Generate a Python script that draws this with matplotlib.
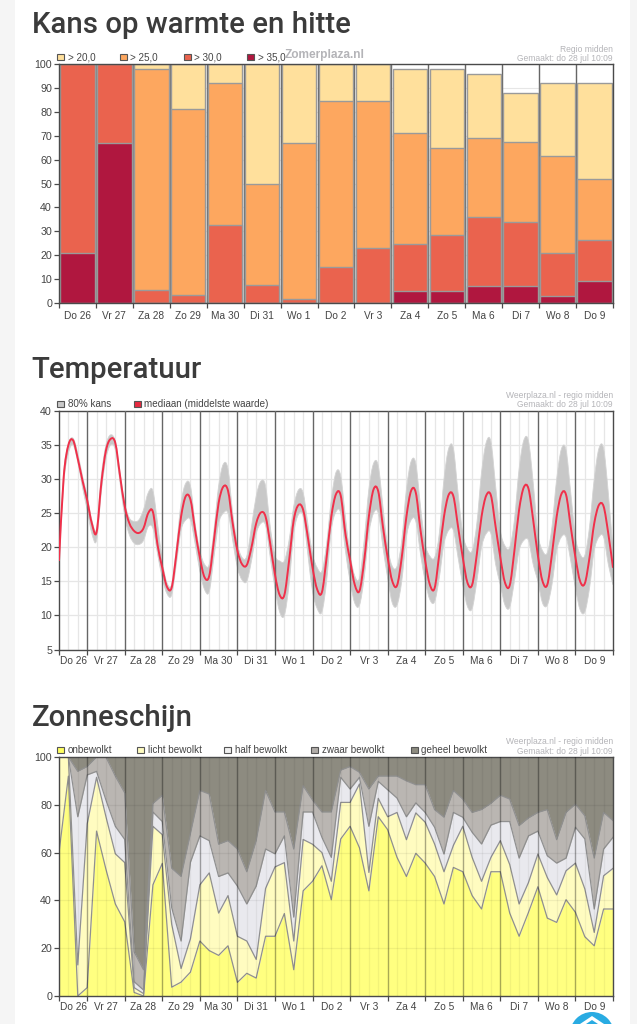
import numpy as np
import matplotlib
matplotlib.use('Agg')
import matplotlib.pyplot as plt
from matplotlib.patches import Rectangle, Circle, Polygon, PathPatch
from matplotlib.path import Path

W, H = 637, 1024

days = ['Do 26', 'Vr 27', 'Za 28', 'Zo 29', 'Ma 30', 'Di 31', 'Wo 1', 'Do 2',
        'Vr 3', 'Za 4', 'Zo 5', 'Ma 6', 'Di 7', 'Wo 8', 'Do 9']

# Kans op warmte en hitte (cumulative from the bottom, each is a chance)
above_20 = [100, 100, 100, 100, 100, 100, 100, 100, 100, 98, 98, 96, 88, 92, 92]
above_25 = [100, 100, 98, 81, 92, 50, 67, 84.5, 84.5, 71, 65, 69, 67.5, 61.5, 52]
above_30 = [100, 100, 5.5, 3.5, 32.5, 7.5, 1.5, 15, 23, 24.5, 28.5, 36, 34, 21, 26.5]
above_35 = [21, 67, 0, 0, 0, 0, 0, 0, 0, 5, 5, 7, 7, 3, 9]

# Temperatuur, one value every 3 hours starting at 06:00 on Do 26
temp_hours = np.arange(6, 361, 3)
temp_median = [18, 30.3, 35, 35.7, 33, 29.8,
               26.9, 23.5, 22.2, 29.3, 34.2, 35.9, 35.3, 30.5,
               26, 23.5, 22.4, 22.1, 22.8, 25, 25.2, 20.3,
               17, 14.2, 14.1, 19, 24.5, 27.5, 27, 22.5,
               18.5, 15.6, 15.8, 21, 26.5, 28.9, 28.3, 23.5,
               19.5, 17.5, 17.4, 20, 23.5, 25.1, 24.5, 20.5,
               16, 13, 13, 18, 24, 26.2, 25.5, 21.5,
               17, 13.8, 13.4, 18.5, 24.5, 27.8, 27.6, 22,
               18.1, 14.5, 13.6, 18, 24.5, 28.5, 28.2, 23,
               18.5, 15, 14.4, 18.5, 24.5, 28.3, 28, 22.5,
               18, 14.5, 14, 19, 24.5, 27.7, 27.5, 23,
               18.5, 14.8, 14.5, 19, 24.5, 27.6, 27.6, 23,
               18.5, 14.8, 14.4, 19.5, 25.5, 28.8, 28.6, 24,
               18.8, 15, 14.5, 19, 24.5, 27.8, 27.7, 23,
               18.5, 15, 14.7, 18.5, 23.5, 26.2, 26, 22,
               17]
temp_high = [18.5, 31, 35.2, 36, 33.8, 30.5,
             27.5, 24, 22.7, 30.5, 35, 36.5, 35.5, 31,
             26.5, 24.3, 23.8, 24, 25.5, 28, 28.3, 23.5,
             18, 14.8, 14.6, 20, 26.5, 29.4, 29, 23.5,
             19.5, 17.5, 17.5, 22.5, 29, 32.2, 31.5, 25,
             20.5, 18.5, 18.7, 23, 27.5, 29.7, 29, 23,
             18.8, 18, 18, 21, 26, 28.4, 28, 23.5,
             19, 17, 16.5, 20.5, 27, 31, 30.5, 24.5,
             19, 15.8, 15.5, 21, 28.5, 32.3, 32, 26,
             20, 17.2, 17.2, 21, 28.5, 32.6, 32.3, 26,
             20.5, 18.7, 18.5, 22, 30, 34.5, 34.5, 28,
             22, 19.8, 19.5, 23.5, 31, 35.4, 35.5, 29,
             22.5, 20.2, 20, 24, 31.5, 35.7, 35.6, 29.5,
             22, 19.5, 19.2, 23, 30, 34.4, 34.3, 28,
             21.5, 19, 18.8, 23, 30, 34.5, 34.5, 28,
             19.5]
temp_low = [17.5, 29.3, 33.8, 35, 32.5, 28.8,
            25.5, 22, 21, 28, 33, 35, 34.3, 29.5,
            24.5, 21.8, 20.6, 20.4, 21, 23, 22.8, 19,
            15.5, 13.2, 13, 17.5, 22.5, 24, 24, 20.5,
            16.5, 13.8, 13.5, 18.5, 23.5, 25, 25, 21,
            17, 15.2, 15, 18, 22, 23.5, 23.2, 18.5,
            14, 10.5, 10, 14.5, 22, 24.8, 24.5, 19,
            13.5, 11, 10.5, 15, 22.5, 25.2, 25, 19.5,
            15, 11.8, 11.5, 15.5, 22, 25, 25, 20,
            15.5, 11.8, 11.5, 15, 21.5, 24, 23.8, 19,
            15, 12.3, 12, 15.5, 20.5, 22.5, 22.5, 18.5,
            14.5, 11.3, 11, 15, 20, 22, 22, 17.5,
            14.5, 11.5, 11.2, 15, 19.5, 21, 21, 17.5,
            15, 11.8, 11.5, 14.5, 19.5, 21.5, 21.5, 18,
            14, 10.8, 10.5, 14, 19.5, 21.5, 21.5, 17.5,
            14.5]

# Zonneschijn, stacked boundaries, one value every 6 hours
sun_hours = np.arange(6, 361, 6)
onbewolkt = [60, 92, 0, 3.5, 69, 53, 38.5, 31, 1.5, 0, 46.5, 55.5, 3.7, 5.8, 10,
             23, 19, 17, 21, 5.7, 9.5, 7.5, 25, 25, 34.5, 11, 44, 48,
             54.5, 40.3, 65.7, 71, 62, 44, 75, 69.6, 58, 50, 59.7, 55.6, 50, 38.5,
             53.8, 52, 42, 36.4, 52, 52, 34.7, 25, 35, 45.7, 32.6, 30.8, 40.3, 35,
             24.8, 21, 36.4, 36.4]
licht = [100, 100, 13, 72, 91.5, 75, 59.5, 55.8, 3.5, 1, 71, 67.5, 30, 11.5, 24,
         46.5, 51.5, 34.7, 42, 25, 23, 15.3, 45, 54, 55.8, 23, 65.5, 63.5,
         60, 48, 81, 81, 88.7, 51.7, 82.7, 75, 76.8, 65.4, 76.6, 72.7, 63.6, 52,
         63, 71, 58, 48, 58, 65, 55, 38.5, 47.5, 59.4, 49.6, 42.3, 52.4, 55.6,
         44.8, 26.6, 50.3, 53.4]
half = [100, 100, 75, 92.5, 94, 82, 71, 65.5, 6, 2.5, 77, 73, 37, 23, 56,
        67, 65, 50, 51.5, 46, 38.5, 46, 61.5, 59.5, 67, 33, 77, 77,
        66.4, 58, 91.5, 86.6, 91.5, 71, 89.8, 86.3, 82.8, 75, 80.8, 76.8, 70.6, 59.4,
        76.8, 74.8, 68.5, 63.6, 71.5, 73, 73, 57.7, 67, 69, 58.7, 55.6, 57.7, 70.6,
        65.7, 36.4, 61.5, 66.4]
zwaar = [100, 100, 94, 96, 100, 100, 92, 85, 18.5, 11, 80.5, 84, 53.5, 50, 68,
         86, 84.5, 63.5, 65, 61.5, 52, 65, 86, 77, 77, 61.5, 88, 82,
         77, 77, 94.5, 96, 93.6, 86.6, 92, 92, 92, 90, 88.4, 88.4, 78, 74.8,
         86, 82.4, 76.8, 78, 80.6, 84, 82.4, 71.3, 74.5, 76.8, 78, 65.4, 76.8, 80.3,
         75.4, 57.7, 76.8, 73.4]

TEXT = '#444444'
FRAME = '#4a4a4a'
FAINT = '#b4b4b8'
GRID = '#e6e6e6'
LABEL_FONT = 'Liberation Sans'

fig = plt.figure(figsize=(W / 100, H / 100), dpi=100, facecolor='white')


def px_text(x, y, s, **kw):
    kw.setdefault('family', LABEL_FONT)
    kw.setdefault('va', 'center')
    return fig.text(x / W, 1 - y / H, s, **kw)


def px_rect(x, y, w, h, **kw):
    fig.add_artist(Rectangle((x / W, 1 - (y + h) / H), w / W, h / H,
                             transform=fig.transFigure, **kw))


def make_axes(top, bottom, left=59, right=613):
    ax = fig.add_axes([left / W, 1 - bottom / H, (right - left) / W, (bottom - top) / H])
    for s in ax.spines.values():
        s.set_color(FRAME)
        s.set_linewidth(1.0)
    ax.tick_params(axis='y', length=3.5, width=0.9, color=FRAME, labelsize=7.7,
                   labelcolor=TEXT, pad=1.5)
    ax.tick_params(axis='x', length=3.5, width=0.9, color=FRAME, labelsize=7.7,
                   labelcolor=TEXT, pad=0)
    for lab in ax.get_xticklabels() + ax.get_yticklabels():
        lab.set_family(LABEL_FONT)
    return ax


def legend(y, xs, names, colors):
    for x, name, c in zip(xs, names, colors):
        px_rect(x, y - 3.5, 6.5, 6.5, facecolor=c, edgecolor='#555555', linewidth=0.8)
        px_text(x + 10.5, y, name, fontsize=7.15, color=TEXT)


def day_labels(ax, hour_edges, y_px=8):
    # labels sit in the middle of each day block, below the axis
    for i, name in enumerate(days):
        mid = (hour_edges[i] + hour_edges[i + 1]) / 2
        ax.annotate(name, (mid, 0), xycoords=('data', 'axes fraction'),
                    xytext=(0, -y_px * 0.72), textcoords='offset points', ha='center', va='top',
                    fontsize=7.3, color=TEXT, family=LABEL_FONT)


def curve_segments(xs, ys):
    # bezier control points so the line runs smoothly through every reading
    xs = np.asarray(xs, dtype=float)
    ys = np.asarray(ys, dtype=float)
    verts = []
    for i in range(len(xs) - 1):
        a = max(i - 1, 0)
        d = min(i + 2, len(xs) - 1)
        verts.append((xs[i] + (xs[i + 1] - xs[a]) / 6, ys[i] + (ys[i + 1] - ys[a]) / 6))
        verts.append((xs[i + 1] - (xs[d] - xs[i]) / 6, ys[i + 1] - (ys[d] - ys[i]) / 6))
        verts.append((xs[i + 1], ys[i + 1]))
    return verts


def smooth_line(xs, ys):
    verts = [(xs[0], ys[0])] + curve_segments(xs, ys)
    codes = [Path.MOVETO] + [Path.CURVE4] * (len(verts) - 1)
    return Path(verts, codes)


def smooth_band(xs, low, high):
    upper = curve_segments(xs, high)
    lower = curve_segments(xs[::-1], low[::-1])
    verts = [(xs[0], high[0])] + upper + [(xs[-1], low[-1])] + lower + [(xs[0], high[0])]
    codes = ([Path.MOVETO] + [Path.CURVE4] * len(upper) + [Path.LINETO]
             + [Path.CURVE4] * len(lower) + [Path.CLOSEPOLY])
    return Path(verts, codes)


# page strips and headings
px_rect(0, 0, 15, H, facecolor='#f5f5f5', edgecolor='none')
px_rect(630, 0, 7, H, facecolor='#f5f5f5', edgecolor='none')
for y, title in [(33, 'Kans op warmte en hitte'), (378, 'Temperatuur'), (725.5, 'Zonneschijn')]:
    px_text(31.5, y, title, family='Roboto', fontweight=500, fontsize=21.2, color='#3b3b3b',
            va='baseline')

# --- Kans op warmte en hitte
ax1 = make_axes(64, 303)
x = np.arange(15) + 0.5
ax1.set_xlim(0, 15)
ax1.set_ylim(0, 100)
ax1.set_yticks(range(0, 101, 10))
ax1.grid(axis='both', color=GRID, linewidth=0.8)
ax1.set_axisbelow(True)
bar_edge = '#9a9a9a'
for vals, c in [(above_20, '#ffe09c'), (above_25, '#fda75f'),
                (above_30, '#ea634e'), (above_35, '#b0173f')]:
    ax1.bar(x, vals, width=0.93, color=c, edgecolor=bar_edge, linewidth=1.0, zorder=2)
ax1.set_xticks(range(16))
ax1.set_xticklabels([])
for d in range(1, 15):
    ax1.axvline(d, color='#666666', linewidth=1.0, zorder=1)
day_labels(ax1, list(range(16)), y_px=8)
legend(57, [57, 120, 184, 247], ['> 20,0', '> 25,0', '> 30,0', '> 35,0'],
       ['#ffe09c', '#fda75f', '#ea634e', '#b0173f'])
px_text(285, 55, 'Zomerplaza.nl', fontsize=8.6, fontweight='bold', color=FAINT)
px_text(613, 49, 'Regio midden', fontsize=6.15, color=FAINT, ha='right')
px_text(613, 58.5, 'Gemaakt: do 28 jul 10:09', fontsize=6.15, color=FAINT, ha='right')

# --- Temperatuur
ax2 = make_axes(411, 649.5)
ax2.set_xlim(6, 360)
ax2.set_ylim(5, 40)
ax2.set_yticks(range(5, 41, 5))
day_edges = [6] + list(range(24, 361, 24))
ax2.set_xticks(day_edges)
ax2.set_xticklabels([])
ax2.set_xticks(np.arange(6, 361, 6), minor=True)
ax2.tick_params(axis='x', which='minor', length=0)
ax2.grid(axis='x', which='minor', color=GRID, linewidth=0.9)
ax2.grid(axis='y', color=GRID, linewidth=0.9)
ax2.set_axisbelow(True)
ax2.add_patch(PathPatch(smooth_band(temp_hours, temp_low, temp_high), facecolor='#c8c8c8',
                        edgecolor='#d4d4d4', linewidth=0.6, zorder=2))
for d in day_edges[1:-1]:
    ax2.axvline(d, color='#666666', linewidth=1.0, zorder=3)
ax2.add_patch(PathPatch(smooth_line(temp_hours, temp_median), facecolor='none',
                        edgecolor='#f0304a', linewidth=1.4, zorder=4))
day_labels(ax2, day_edges, y_px=7)
legend(404, [57, 134], ['80% kans', 'mediaan (middelste waarde)'], ['#c8c8c8', '#e8293f'])
px_text(613, 395, 'Weerplaza.nl - regio midden', fontsize=6.15, color=FAINT, ha='right')
px_text(613, 404.5, 'Gemaakt: do 28 jul 10:09', fontsize=6.15, color=FAINT, ha='right')

# --- Zonneschijn
ax3 = make_axes(757, 996)
ax3.set_xlim(6, 360)
ax3.set_ylim(0, 100)
ax3.set_yticks(range(0, 101, 20))
ax3.set_xticks(day_edges)
ax3.set_xticklabels([])
sun_colors = ['#ffff80', '#fffcc0', '#e9e9ee', '#bab6b2', '#8d8b80']
bounds = [np.zeros(len(sun_hours)), onbewolkt, licht, half, zwaar, np.full(len(sun_hours), 100.0)]
for i, c in enumerate(sun_colors):
    ax3.fill_between(sun_hours, bounds[i], bounds[i + 1], color=c, linewidth=0, zorder=1)
for b in bounds[1:-1]:
    ax3.plot(sun_hours, b, color='#909090', linewidth=0.9, zorder=2)
for h in np.arange(6, 361, 6):
    ax3.axvline(h, color='#000000', alpha=0.05, linewidth=0.9, zorder=3)
for v in range(20, 100, 20):
    ax3.axhline(v, color='#000000', alpha=0.06, linewidth=0.9, zorder=3)
for d in day_edges[1:-1]:
    ax3.axvline(d, color='#000000', alpha=0.3, linewidth=1.0, zorder=3)
day_labels(ax3, day_edges, y_px=6.5)
legend(750, [57, 137, 224, 311, 411],
       ['onbewolkt', 'licht bewolkt', 'half bewolkt', 'zwaar bewolkt', 'geheel bewolkt'],
       ['#ffff60', '#fffcc0', '#f0f0f0', '#b0aca8', '#8d8b80'])
px_text(613, 741.5, 'Weerplaza.nl - regio midden', fontsize=6.15, color=FAINT, ha='right')
px_text(613, 751, 'Gemaakt: do 28 jul 10:09', fontsize=6.15, color=FAINT, ha='right')

# scroll-to-top button cut off by the bottom edge
fig_ax = fig.add_axes([0, 0, 1, 1], facecolor='none')
fig_ax.set_xlim(0, W)
fig_ax.set_ylim(H, 0)
fig_ax.axis('off')
fig_ax.add_patch(Circle((592, 1034), 22, facecolor='#29abe2', edgecolor='none'))
fig_ax.add_patch(Polygon([(580, 1024), (592, 1016), (604, 1024), (598, 1024), (592, 1020), (586, 1024)],
                         facecolor='white', edgecolor='none'))

fig.savefig('out.png', dpi=100)
